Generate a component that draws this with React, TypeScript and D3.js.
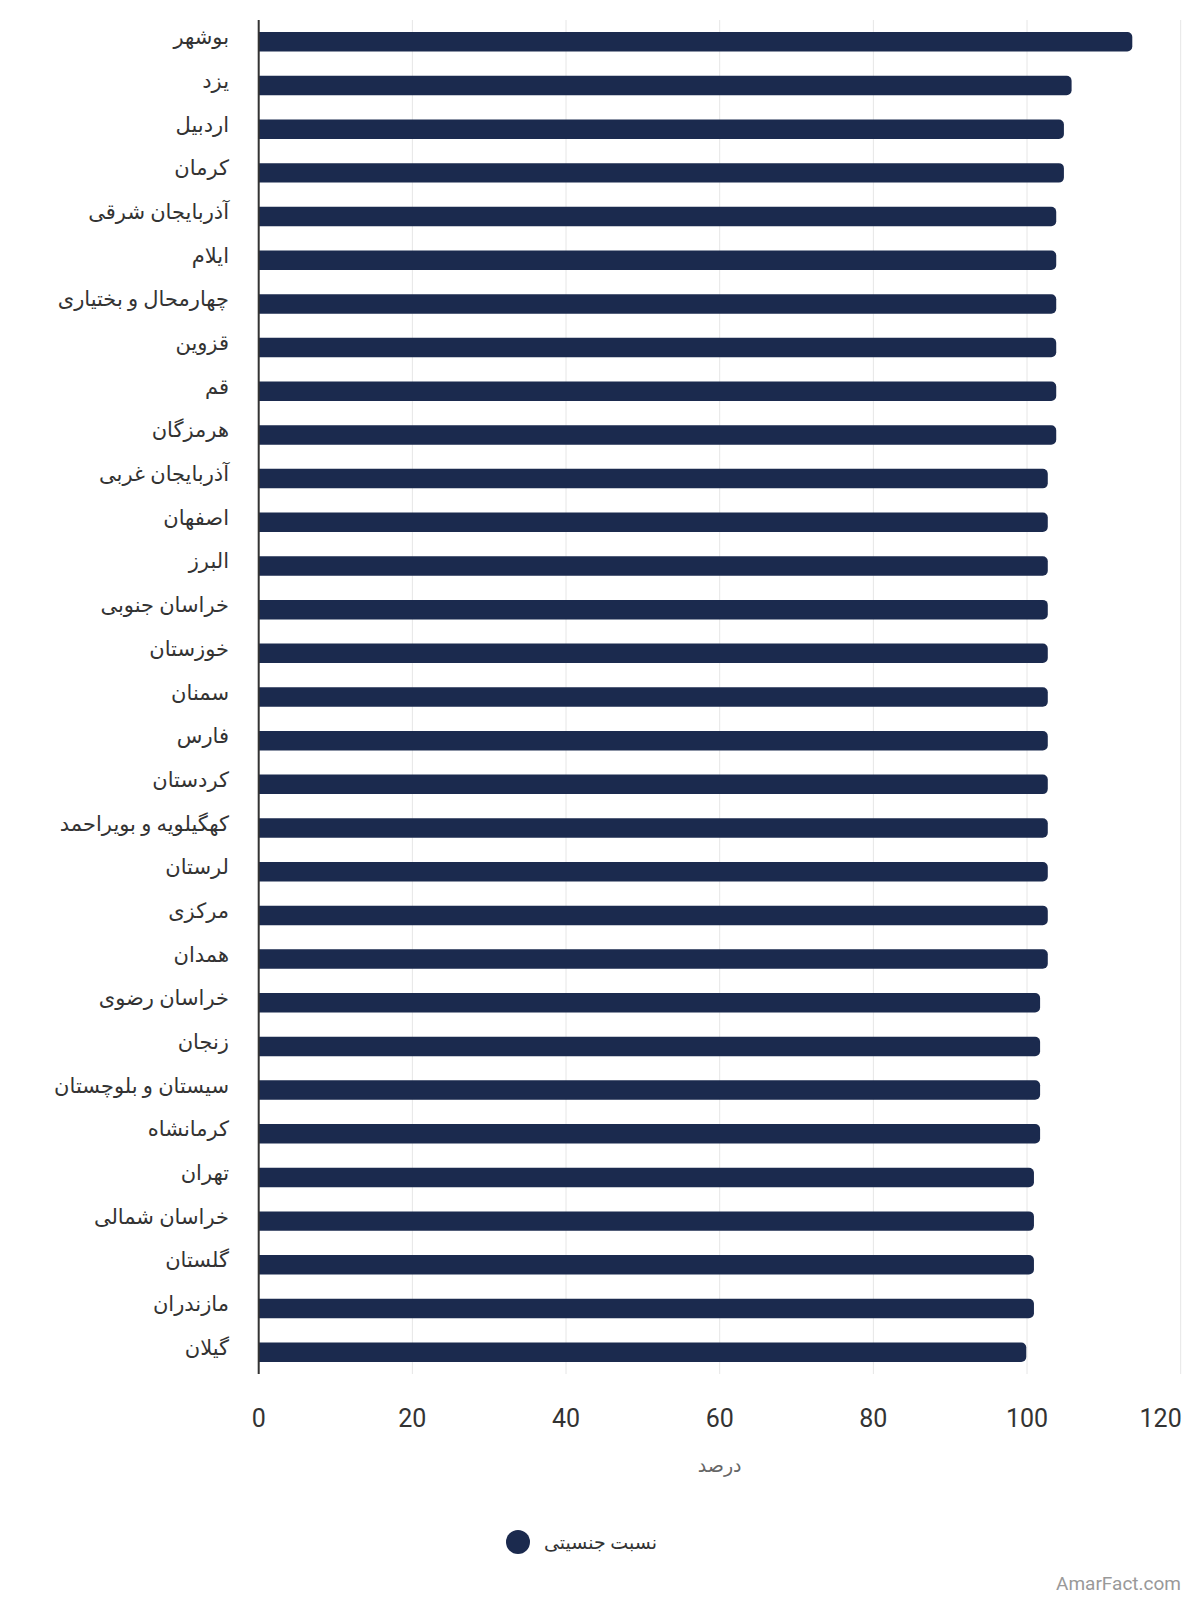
import React from "react";
import * as d3 from "d3";

const provinces: string[] = [
  "بوشهر", "یزد", "اردبیل", "کرمان", "آذربایجان شرقی", "ایلام",
  "چهارمحال و بختیاری", "قزوین", "قم", "هرمزگان", "آذربایجان غربی",
  "اصفهان", "البرز", "خراسان جنوبی", "خوزستان", "سمنان", "فارس",
  "کردستان", "کهگیلویه و بویراحمد", "لرستان", "مرکزی", "همدان",
  "خراسان رضوی", "زنجان", "سیستان و بلوچستان", "کرمانشاه", "تهران",
  "خراسان شمالی", "گلستان", "مازندران", "گیلان",
];

const sexRatio: number[] = [
  113.7, 105.8, 104.8, 104.8, 103.8, 103.8,
  103.8, 103.8, 103.8, 103.8, 102.7,
  102.7, 102.7, 102.7, 102.7, 102.7, 102.7,
  102.7, 102.7, 102.7, 102.7, 102.7,
  101.7, 101.7, 101.7, 101.7, 100.9,
  100.9, 100.9, 100.9, 99.9,
];

const xTicks: number[] = [0, 20, 40, 60, 80, 100, 120];
const seriesName = "نسبت جنسیتی";
const axisTitle = "درصد";
const credit = "AmarFact.com";

const W = 1200;
const H = 1600;
const left = 258.7;
const right = 1180.7;
const top = 20;
const bottom = 1374;
const barColor = "#1b2a4e";
const font = "Roboto, 'DejaVu Sans', sans-serif";

function barPath(x0: number, y0: number, w: number, h: number, r: number) {
  const rr = Math.min(r, w / 2, h / 2);
  return `M${x0},${y0}H${x0 + w - rr}A${rr},${rr} 0 0 1 ${x0 + w},${y0 + rr}V${y0 + h - rr}A${rr},${rr} 0 0 1 ${x0 + w - rr},${y0 + h}H${x0}Z`;
}

export default function App() {
  const x = d3.scaleLinear().domain([0, 120]).range([left, right]);
  const y = d3
    .scaleBand<string>()
    .domain(provinces)
    .range([top, bottom])
    .paddingInner(0.554)
    .paddingOuter(0.277);

  return (
    <svg
      width={W}
      height={H}
      style={{ position: "absolute", left: 0, top: 0, background: "#fff" }}
      fontFamily={font}
    >
      <rect x={0} y={0} width={W} height={H} fill="#fff" />
      {xTicks.map((t) => (
        <line
          key={"g" + t}
          x1={x(t)}
          x2={x(t)}
          y1={top}
          y2={bottom}
          stroke="#e6e6e6"
          strokeWidth={1}
        />
      ))}
      {provinces.map((p, i) => (
        <path
          key={"b" + p}
          d={barPath(x(0), y(p) as number, x(sexRatio[i]) - x(0), y.bandwidth(), 5)}
          fill={barColor}
        />
      ))}
      <line x1={left} x2={left} y1={top} y2={bottom} stroke="#333" strokeWidth={2} />
      {provinces.map((p) => (
        <text
          key={"l" + p}
          x={229}
          y={(y(p) as number) + y.bandwidth() / 2 + 2.5}
          textAnchor="end"
          fontSize={21}
          fill="#333"
        >
          {p}
        </text>
      ))}
      {xTicks.map((t, i) => {
        const last = i === xTicks.length - 1;
        return (
          <text
            key={"t" + t}
            x={last ? x(t) + 1 : x(t)}
            y={1427}
            textAnchor={last ? "end" : "middle"}
            fontSize={25}
            fill="#333"
          >
            {t}
          </text>
        );
      })}
      <text x={(left + right) / 2} y={1472} textAnchor="middle" fontSize={19} fill="#666">
        {axisTitle}
      </text>
      <circle cx={518} cy={1542} r={12} fill={barColor} />
      <text x={657} y={1542} dy="0.35em" textAnchor="end" fontSize={19} fill="#333">
        {seriesName}
      </text>
      <text x={1181} y={1590} textAnchor="end" fontSize={19} fill="#999">
        {credit}
      </text>
    </svg>
  );
}
